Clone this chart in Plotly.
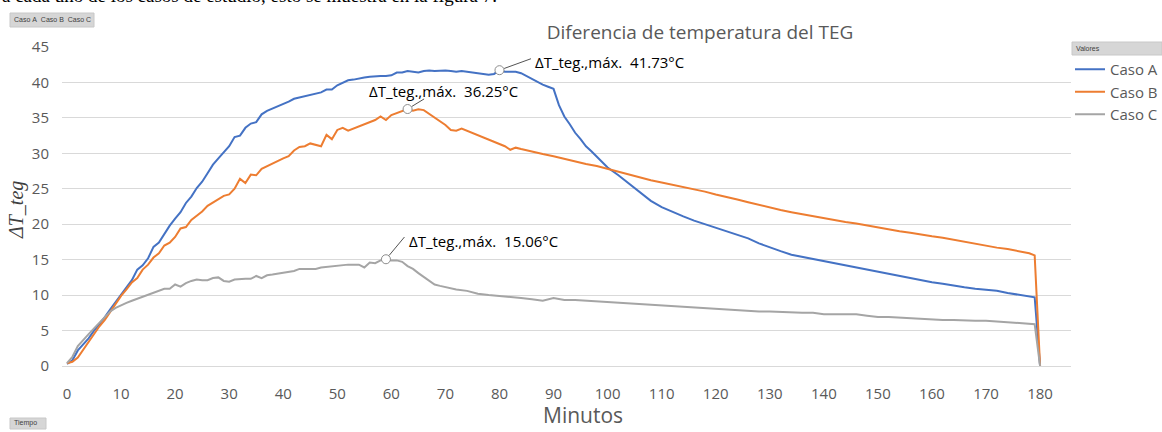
import plotly.graph_objects as go

# ---------------- data ----------------
t_a = [0,1,2,3,4,5,6,7,8,9,10,11,12,13,14,15,16,17,18,19,20,21,22,23,24,25,26,27,28,29,30,
       31,32,33,34,35,36,37,38,39,40,41,42,43,44,45,46,47,48,49,50,51,52,53,54,55,56,57,58,59,60,
       61,62,63,64,65,66,67,68,69,70,71,72,73,74,75,76,77,78,79,80,81,82,83,84,85,86,87,88,89,90,
       91,92,93,94,95,96,97,98,99,100,102,104,106,108,110,112,114,116,118,120,122,124,126,128,130,
       132,134,136,138,140,142,144,146,148,150,152,154,156,158,160,162,164,166,168,170,172,174,176,178,179,180]
caso_a = [0.3,0.8,2.2,3.0,3.9,5.0,5.9,6.9,8.0,9.0,10.0,11.0,12.1,13.6,14.2,15.2,16.8,17.4,18.7,19.8,20.8,
          21.7,23.0,23.9,25.1,26.0,27.2,28.4,29.3,30.2,31.0,32.3,32.5,33.6,34.2,34.4,35.5,36.0,36.3,36.6,37.0,
          37.3,37.7,37.9,38.1,38.3,38.5,38.6,39.0,39.0,39.6,40.0,40.3,40.4,40.6,40.7,40.8,40.9,40.9,40.9,41.0,
          41.4,41.4,41.6,41.5,41.4,41.6,41.7,41.6,41.7,41.7,41.6,41.5,41.6,41.5,41.5,41.4,41.3,41.1,41.2,41.73,
          41.5,41.5,41.5,41.3,40.9,40.5,40.0,39.7,39.4,39.1,36.8,35.2,34.1,32.9,32.0,31.0,30.3,29.5,28.7,28.0,
          26.9,25.7,24.6,23.3,22.4,21.7,21.1,20.5,20.0,19.5,19.0,18.5,18.0,17.3,16.7,16.2,15.7,15.4,15.1,14.8,
          14.5,14.2,13.9,13.6,13.3,13.0,12.6,12.3,12.0,11.8,11.6,11.3,11.1,10.9,10.8,10.6,10.3,10.1,9.9,9.7,0.0]

t_b = [0,1,2,3,4,5,6,7,8,9,10,11,12,13,14,15,16,17,18,19,20,21,22,23,24,25,26,27,28,29,30,
       31,32,33,34,35,36,37,38,39,40,41,42,43,44,45,46,47,48,49,50,51,52,53,54,55,56,57,58,59,60,
       61,62,63,64,65,66,67,68,69,70,71,72,73,74,75,76,77,78,79,80,81,82,83,84,85,86,88,90,92,94,96,98,
       100,102,104,106,108,110,112,114,116,118,120,122,124,126,128,130,132,134,136,138,140,142,144,146,148,
       150,152,154,156,158,160,162,164,166,168,170,172,174,176,178,179,180]
caso_b = [0.4,0.6,1.2,2.3,3.3,4.4,5.6,6.5,7.6,8.8,9.9,10.8,11.8,12.4,13.6,14.3,15.3,15.9,17.0,17.4,18.2,
          19.4,19.6,20.6,21.2,21.8,22.6,23.1,23.6,24.0,24.2,25.0,26.4,25.8,27.0,26.9,27.8,28.2,28.5,29.0,29.3,
          29.6,30.4,30.9,31.0,31.4,31.2,31.0,32.6,32.0,33.3,33.6,33.2,33.5,33.8,34.1,34.4,34.7,35.2,34.7,35.4,
          35.7,35.9,36.25,36.0,36.2,36.1,35.6,35.0,34.6,34.0,33.3,33.2,33.5,33.2,32.8,32.5,32.3,32.0,31.7,31.3,
          31.0,30.5,30.8,30.6,30.4,30.2,29.9,29.6,29.2,28.9,28.5,28.2,27.8,27.3,26.9,26.5,26.2,25.9,25.6,25.3,
          24.9,24.6,24.2,23.9,23.5,23.1,22.7,22.4,22.0,21.7,21.4,21.1,20.9,20.6,20.3,20.1,19.8,19.6,19.3,19.0,
          18.8,18.5,18.3,18.1,17.8,17.5,17.2,16.9,16.7,16.5,16.2,15.9,15.6,0.0]

t_c = [0,1,2,3,4,5,6,7,8,9,10,11,12,13,14,15,16,17,18,19,20,21,22,23,24,25,26,27,28,29,30,
       31,32,33,34,35,36,37,38,39,40,41,42,43,44,45,46,47,48,49,50,51,52,53,54,55,56,57,58,59,60,
       61,62,63,64,65,66,67,68,69,70,72,74,76,78,80,82,84,86,88,90,92,94,96,98,100,102,104,106,108,110,
       112,114,116,118,120,122,124,126,128,130,132,134,136,138,140,142,144,146,148,150,152,154,156,158,
       160,162,164,166,168,170,172,174,176,178,179,180]
caso_c = [0.4,1.3,2.8,3.7,4.5,5.3,6.1,6.9,7.7,8.2,8.6,8.9,9.2,9.5,9.8,10.1,10.4,10.7,10.9,10.9,11.5,
          11.2,11.7,12.0,12.2,12.1,12.1,12.4,12.5,12.0,11.9,12.2,12.3,12.3,12.3,12.7,12.4,12.8,12.9,13.0,13.2,
          13.3,13.4,13.7,13.7,13.8,13.7,13.9,14.0,14.1,14.2,14.3,14.3,14.3,14.3,13.9,14.6,14.5,14.9,15.06,14.9,
          14.9,14.7,14.1,13.7,13.1,12.6,12.1,11.5,11.3,11.1,10.8,10.6,10.2,10.0,9.9,9.8,9.6,9.4,9.2,9.6,
          9.3,9.3,9.2,9.1,9.0,8.9,8.9,8.8,8.6,8.5,8.4,8.3,8.2,8.1,8.0,7.9,7.8,7.8,7.7,7.7,7.6,7.6,7.5,7.5,
          7.3,7.3,7.3,7.3,7.1,6.9,6.9,6.8,6.7,6.7,6.6,6.5,6.5,6.4,6.4,6.4,6.3,6.2,6.1,6.0,5.9,0.0]

series_names = ["Caso A", "Caso B", "Caso C"]
x_ticks = [0,10,20,30,40,50,60,70,80,90,100,110,120,130,140,150,160,170,180]
y_ticks = [0,5,10,15,20,25,30,35,40,45]

# max points (labelled)
max_t = [80, 63, 59]
max_v = [41.73, 36.25, 15.06]
max_labels = ["ΔT_teg.,máx.\u00a0\u00a041.73°C",
              "ΔT_teg.,máx.\u00a0\u00a036.25°C",
              "ΔT_teg.,máx.\u00a0\u00a015.06°C"]

# ---------------- layout geometry ----------------
W, H = 1162, 432
ML, MR, MT, MB = 62, 91, 47, 66
PW, PH = W - ML - MR, H - MT - MB

def px(xp):
    return (xp - ML) / PW

def py(yp):
    return (H - MB - yp) / PH

colors = ["#4472C4", "#ED7D31", "#A5A5A5"]
FONT = "Open Sans"
GREY_TXT = "#595959"

fig = go.Figure()
for name, tx, ty, c in zip(series_names, [t_a, t_b, t_c], [caso_a, caso_b, caso_c], colors):
    fig.add_trace(go.Scatter(x=tx, y=ty, mode="lines", name=name,
                             line=dict(color=c, width=2), hoverinfo="x+y+name"))

fig.add_trace(go.Scatter(x=max_t, y=max_v, mode="markers", showlegend=False,
                         marker=dict(size=9, color="white",
                                     line=dict(color="#8c8c8c", width=1)),
                         hoverinfo="skip"))

annotations = []
# leader lines (arrow without head)
leader_offsets = [(33, -12), (18, -11), (20, -24)]
for t, v, (ax, ay) in zip(max_t, max_v, leader_offsets):
    annotations.append(dict(x=t, y=v, xref="x", yref="y", text="\u200b", showarrow=True,
                            arrowhead=0, arrowwidth=0.9, arrowcolor="#404040",
                            ax=ax, ay=ay, standoff=5, font=dict(size=1)))
# label texts
label_shift = [(34, 8, "left"), (36, 18, "center"), (21, 18, "left")]
for t, v, txt, (xs, ys, xa) in zip(max_t, max_v, max_labels, label_shift):
    annotations.append(dict(x=t, y=v, xref="x", yref="y", text=txt, showarrow=False,
                            xanchor=xa, yanchor="middle", xshift=xs, yshift=ys,
                            font=dict(family=FONT, size=15, color="#000000")))

# axis titles
annotations.append(dict(x=px(583), y=py(415), xref="paper", yref="paper", text="Minutos",
                        showarrow=False, xanchor="center", yanchor="middle",
                        font=dict(family=FONT, size=21, color=GREY_TXT)))
annotations.append(dict(x=px(16), y=py(210), xref="paper", yref="paper", text="<i>ΔT_teg</i>",
                        showarrow=False, textangle=-90, xanchor="center", yanchor="middle",
                        font=dict(family="Liberation Serif", size=20, color="#404040")))

# cut-off document text at very top
annotations.append(dict(x=px(0), y=py(8), xref="paper", yref="paper",
                        text="a cada uno de los casos de estudio, esto se muestra en la figura 7.",
                        showarrow=False, xanchor="left", yanchor="bottom",
                        font=dict(family="Liberation Serif", size=19, color="#000000")))

# pivot field buttons
buttons = [(10, 13, 94, 27, "Caso A  Caso B  Caso C"),
           (1072, 42, 1162, 55, "Valores"),
           (10, 418, 46, 429, "Tiempo")]
shapes = []
for x0, y0, x1, y1, txt in buttons:
    shapes.append(dict(type="rect", xref="paper", yref="paper",
                       x0=px(x0), x1=px(x1), y0=py(y1), y1=py(y0),
                       fillcolor="#d6d6d6", line=dict(color="#c8c8c8", width=1), layer="above"))
    annotations.append(dict(x=px(x0 + 2), y=py((y0 + y1) / 2), xref="paper", yref="paper",
                            text=txt.replace(" ", "\u00a0"), showarrow=False,
                            xanchor="left", yanchor="middle",
                            font=dict(family="Liberation Sans", size=7, color="#404040")))

fig.update_layout(
    width=W, height=H,
    margin=dict(l=ML, r=MR, t=MT, b=MB, autoexpand=False),
    paper_bgcolor="white", plot_bgcolor="white",
    title=dict(text="Diferencia de temperatura del TEG", x=px(700), xref="paper",
               xanchor="center", y=1 - 32 / H, yanchor="middle",
               font=dict(family=FONT, size=19, color=GREY_TXT)),
    showlegend=True,
    legend=dict(x=px(1070), y=py(53), xanchor="left", yanchor="top",
                font=dict(family=FONT, size=15, color=GREY_TXT),
                bgcolor="rgba(0,0,0,0)", tracegroupgap=0, itemwidth=30),
    xaxis=dict(range=[-0.925, 185.72], tickmode="array", tickvals=x_ticks,
               ticktext=[str(v) for v in x_ticks], showgrid=False, zeroline=False,
               showline=True, linecolor="#d9d9d9", linewidth=1, ticks="",
               ticklabelstandoff=14,
               tickfont=dict(family=FONT, size=15, color=GREY_TXT)),
    yaxis=dict(range=[0, 45], tickmode="array", tickvals=y_ticks,
               ticktext=[str(v) for v in y_ticks], showgrid=True, gridcolor="#d9d9d9",
               gridwidth=1, zeroline=False, showline=False, ticks="",
               ticklabelstandoff=12,
               tickfont=dict(family=FONT, size=15, color=GREY_TXT)),
    annotations=annotations,
    shapes=shapes,
)

fig.write_html("out.html", config={"displayModeBar": False},
               post_script="document.body.style.margin='0';document.body.style.overflow='hidden';")
